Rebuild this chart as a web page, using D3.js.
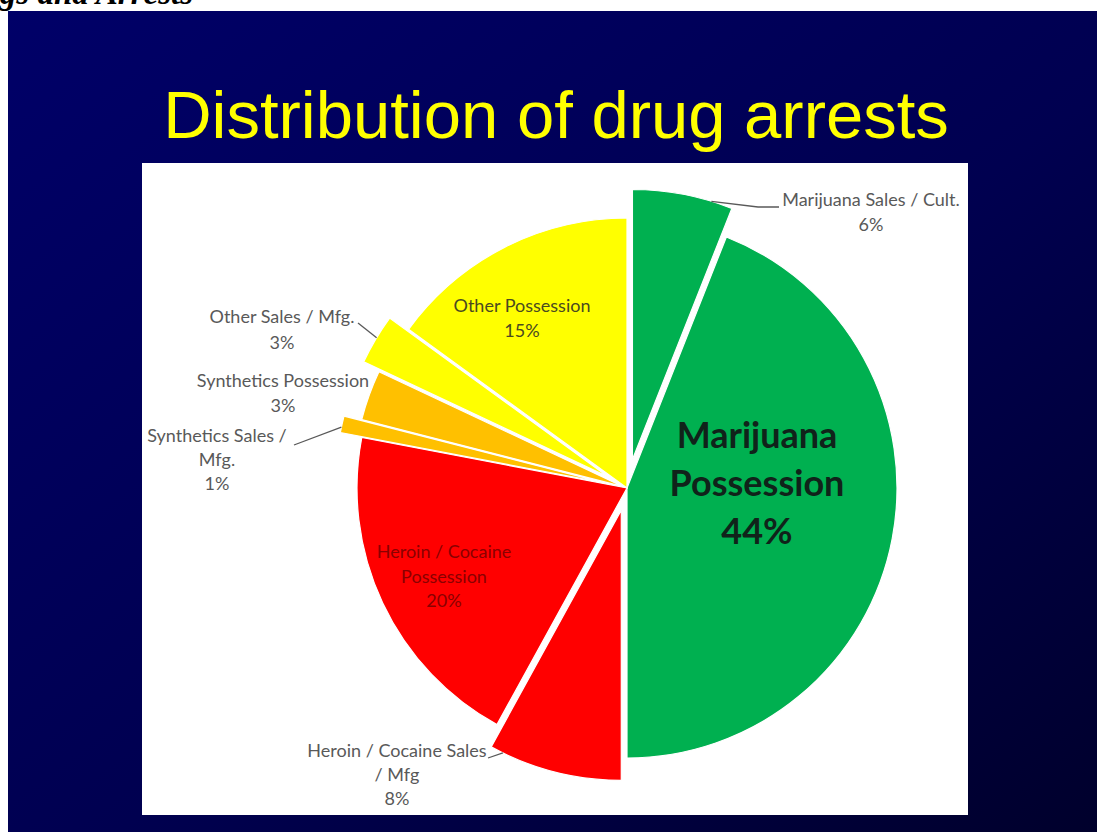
<!DOCTYPE html>
<html>
<head>
<meta charset="utf-8">
<script src="https://cdn.jsdelivr.net/npm/d3@7/dist/d3.min.js"></script>
<style>
  html, body { margin: 0; padding: 0; background: #fff; }
  svg { display: block; }
</style>
</head>
<body>
<svg id="slide" width="1097" height="832"></svg>
<script>
// Share of drug arrests by offence type, clockwise from 12 o'clock
const categories = [
  "Marijuana Sales / Cult.",
  "Marijuana Possession",
  "Heroin / Cocaine Sales / Mfg",
  "Heroin / Cocaine Possession",
  "Synthetics Sales / Mfg.",
  "Synthetics Possession",
  "Other Sales / Mfg.",
  "Other Possession"
];
const shares = [6, 44, 8, 20, 1, 3, 3, 15];
const shareLabels = ["6%", "44%", "8%", "20%", "1%", "3%", "3%", "15%"];

const titleText = "Distribution of drug arrests";
const headerText = "Drugs and Arrests";

// ---- presentation ----
const W = 1097, H = 832;
const cx = 627, cy = 488, R = 270;
const sliceColor = ["#00B050", "#00B050", "#FF0000", "#FF0000", "#FFC000", "#FFC000", "#FFFF00", "#FFFF00"];
const explode = [29, 0, 23, 0, 22, 4, 22, 0];

// label layout: offset of first baseline from pie centre, wrapped lines, styling
const labelLayout = [
  { dx: 244, dy: -282, lines: ["Marijuana Sales / Cult."], lh: 25, size: 18, fill: "#595959",
    leader: { angle: 17, via: [[131, -281], [152, -281]] } },
  { dx: 130, dy: -40, lines: ["Marijuana", "Possession"], lh: 48, size: 36, weight: 700, fill: "#10231a" },
  { dx: -230, dy: 269, lines: ["Heroin / Cocaine Sales", "/ Mfg"], lh: 24, size: 18, fill: "#595959",
    leader: { angle: 206, via: [[-139, 270]] } },
  { dx: -183, dy: 70, lines: ["Heroin / Cocaine", "Possession"], lh: 24.5, size: 18, fill: "#8a0000" },
  { dx: -410, dy: -46, lines: ["Synthetics Sales /", "Mfg."], lh: 24, size: 18, fill: "#595959",
    leader: { angle: 282, via: [[-333, -43]] } },
  { dx: -344, dy: -101, lines: ["Synthetics Possession"], lh: 25, size: 18, fill: "#595959" },
  { dx: -345, dy: -165, lines: ["Other Sales / Mfg."], lh: 26, size: 18, fill: "#595959",
    leader: { angle: 301, via: [[-269, -165]] } },
  { dx: -105, dy: -176, lines: ["Other Possession"], lh: 25, size: 18, fill: "#4a4a20" }
];

const svg = d3.select("#slide");
const defs = svg.append("defs");
const grad = defs.append("linearGradient").attr("id", "bg")
  .attr("x1", 0).attr("y1", 0).attr("x2", 1).attr("y2", 1);
grad.append("stop").attr("offset", "0%").attr("stop-color", "#000068");
grad.append("stop").attr("offset", "55%").attr("stop-color", "#000050");
grad.append("stop").attr("offset", "100%").attr("stop-color", "#00002c");

svg.append("rect").attr("width", W).attr("height", H).attr("fill", "#fff");

// running header, cropped at the top edge
svg.append("text")
  .attr("x", 193).attr("y", 4)
  .attr("text-anchor", "end")
  .attr("font-family", "'Liberation Serif', 'Times New Roman', serif")
  .attr("font-weight", 700).attr("font-style", "italic")
  .attr("font-size", 33).attr("fill", "#000")
  .text(headerText);

svg.append("rect").attr("x", 8).attr("y", 11).attr("width", W - 8).attr("height", H - 11)
  .attr("fill", "url(#bg)");

svg.append("text")
  .attr("x", 556).attr("y", 138)
  .attr("text-anchor", "middle")
  .attr("font-family", "'Liberation Sans', Arial, sans-serif")
  .attr("font-size", 67).attr("fill", "#FFFF00")
  .text(titleText);

// chart area
svg.append("rect").attr("x", 142).attr("y", 163).attr("width", 826).attr("height", 652).attr("fill", "#fff");

const rows = categories.map((c, i) => ({ category: c, share: shares[i], label: shareLabels[i], i }));
const pie = d3.pie().sort(null).value(d => d.share);
const arcs = pie(rows);
const arc = d3.arc().innerRadius(0).outerRadius(R);

const g = svg.append("g").attr("transform", `translate(${cx},${cy})`);

function shift(d) {
  const mid = (d.startAngle + d.endAngle) / 2;
  const o = explode[d.data.i];
  return [o * Math.sin(mid), -o * Math.cos(mid)];
}

g.selectAll("path.slice").data(arcs).join("path")
  .attr("class", "slice")
  .attr("transform", d => `translate(${shift(d)})`)
  .attr("d", arc)
  .attr("fill", d => sliceColor[d.data.i])
  .attr("stroke", "#fff").attr("stroke-width", 1.2);

// leader lines from the slice rim to its label
const rad = Math.PI / 180;
arcs.forEach(d => {
  const L = labelLayout[d.data.i];
  if (!L.leader) return;
  const [ox, oy] = shift(d);
  const a = L.leader.angle * rad;
  const start = [ox + R * Math.sin(a), oy - R * Math.cos(a)];
  const pts = [start, ...L.leader.via];
  g.append("path")
    .attr("d", d3.line()(pts))
    .attr("fill", "none").attr("stroke", "#595959").attr("stroke-width", 1.3);
});

// slice labels
arcs.forEach(d => {
  const L = labelLayout[d.data.i];
  const t = g.append("text")
    .attr("text-anchor", "middle")
    .attr("font-family", "Lato, 'Open Sans', sans-serif")
    .attr("font-size", L.size)
    .attr("font-weight", L.weight || 400)
    .attr("fill", L.fill);
  const lines = [...L.lines, d.data.label];
  lines.forEach((s, k) => {
    t.append("tspan").attr("x", L.dx).attr("y", L.dy + k * L.lh).text(s);
  });
});
</script>
</body>
</html>
